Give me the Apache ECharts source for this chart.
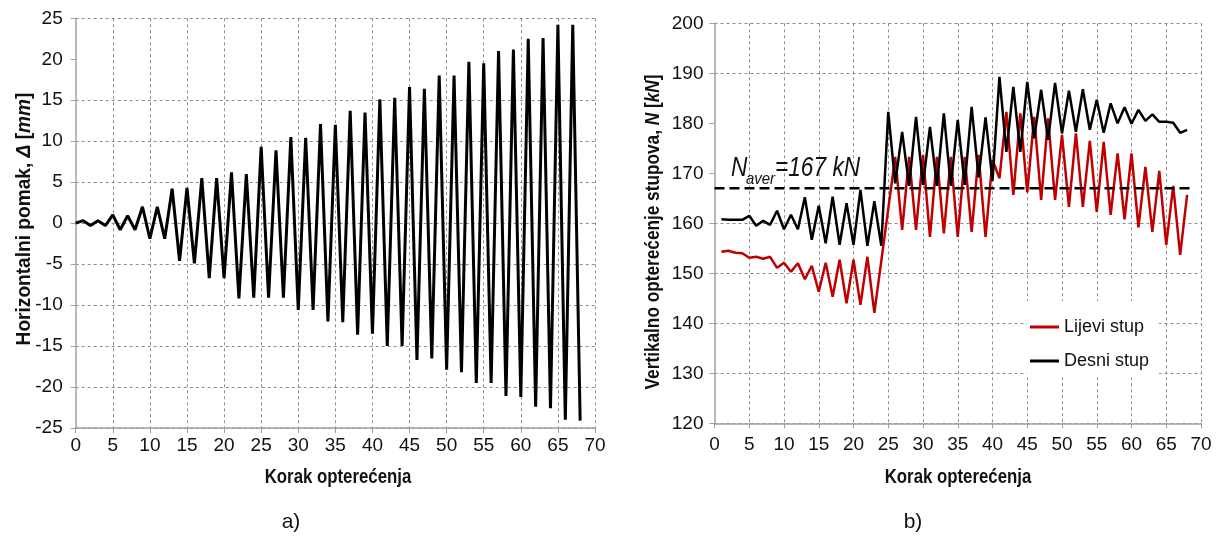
<!DOCTYPE html>
<html><head><meta charset="utf-8">
<script src="https://cdn.jsdelivr.net/npm/echarts@6/dist/echarts.min.js"></script>
<style>html,body{margin:0;padding:0;background:#fff}#c{width:1219px;height:540px}</style>
</head><body><div id="c"></div>
<script>
// ---- data ----
// Left chart: horizontal displacement per load step (steps 0..68)
const dispSteps = [0,1,2,3,4,5,6,7,8,9,10,11,12,13,14,15,16,17,18,19,20,21,22,23,24,25,26,27,28,29,30,31,32,33,34,35,36,37,38,39,40,41,42,43,44,45,46,47,48,49,50,51,52,53,54,55,56,57,58,59,60,61,62,63,64,65,66,67,68];
const dispValues = [0,0.3,-0.3,0.3,-0.3,1.0,-0.8,0.9,-0.8,2.0,-1.9,2.0,-1.9,4.2,-4.6,4.3,-4.9,5.5,-6.7,5.5,-6.7,6.2,-9.2,6.0,-9.1,9.3,-9.1,8.9,-9.1,10.5,-10.6,10.4,-10.6,12.1,-12.0,12.0,-12.1,13.7,-13.6,13.5,-13.5,15.1,-15.0,15.3,-15.0,16.6,-16.7,16.4,-16.5,18.0,-17.9,18.0,-18.2,19.7,-19.5,19.5,-19.5,21.0,-21.1,21.2,-21.2,22.5,-22.4,22.6,-22.6,24.2,-24.0,24.2,-24.1];
// Right chart: vertical column load per load step (steps 1..68)
const loadSteps = [1,2,3,4,5,6,7,8,9,10,11,12,13,14,15,16,17,18,19,20,21,22,23,24,25,26,27,28,29,30,31,32,33,34,35,36,37,38,39,40,41,42,43,44,45,46,47,48,49,50,51,52,53,54,55,56,57,58,59,60,61,62,63,64,65,66,67,68];
const lijeviStup = [154.3,154.5,154.1,154.0,153.1,153.3,152.9,153.3,151.1,152.1,150.3,152.0,148.8,151.5,146.3,152.1,145.3,152.7,144.0,152.7,143.7,153.3,142.1,152.5,162.9,173.3,158.7,173.3,158.7,173.7,157.3,173.3,158.0,173.3,157.3,173.3,158.3,173.7,157.3,172.7,169.0,182.3,165.7,182.0,166.2,181.3,164.7,181.0,164.7,177.7,163.3,178.0,163.3,176.5,162.3,176.3,161.7,174.0,160.8,174.0,159.2,171.3,158.3,170.5,155.7,167.5,153.7,165.7];
const desniStup = [160.8,160.7,160.7,160.7,161.5,159.5,160.5,159.7,162.5,158.8,161.7,158.8,165.2,156.7,163.5,156.0,165.3,155.7,164.0,155.7,166.7,155.5,164.4,155.5,182.3,168.0,178.3,167.5,181.3,167.7,179.3,167.5,182.0,167.5,180.7,167.7,183.3,169.2,181.2,168.5,189.3,174.3,187.3,174.3,188.3,177.0,186.7,176.7,188.1,178.0,186.5,178.3,186.8,178.7,184.7,178.1,184.0,180.0,183.2,179.9,182.7,180.5,181.8,180.3,180.3,180.1,178.1,178.7];
const avgLoad = 167;
const avgSteps = [0, 68.5];
const seriesNames = ['Lijevi stup', 'Desni stup'];
const xTitle = 'Korak opterećenja';
const leftYTitle = '{b|Horizontalni pomak, }{bi|Δ}{b| [}{bi|mm}{b|]}';
const rightYTitle = '{b|Vertikalno opterećenje stupova, }{bi|N}{b| [}{bi|kN}{b|]}';
const panelLabels = ['a)', 'b)'];

// ---- build ----
const FONT = "'Liberation Sans', Arial, sans-serif";
const pairs = (xs, ys) => xs.map((x, i) => [x, ys[i]]);
const GC = '#8c8c8c';
const gridDash = {type: [3, 3], color: GC, width: 1};
const axisGray = {color: '#a0a0a0', width: 1.5};

function xAx(gi, margin) {
  return {
    type: 'value', gridIndex: gi, min: 0, max: 70, interval: 5,
    axisLine: {show: true, onZero: false, lineStyle: axisGray},
    axisTick: {show: true, length: 5, lineStyle: {color: '#a0a0a0'}},
    axisLabel: {fontSize: 19, color: '#111', fontFamily: FONT, margin: margin},
    splitLine: {show: true, showMinLine: false, lineStyle: gridDash}
  };
}
const T = 'rgba(0,0,0,0)';
const leftSplitColors = [GC,GC,GC,GC,GC,GC,GC,GC,GC,T,GC];
const rightSplitColors = [GC,GC,GC,GC,GC,T,T,GC,GC];

const richName = {
  b: {fontSize: 21, fontWeight: 'bold', fill: '#111', fontFamily: FONT},
  bi: {fontSize: 21, fontWeight: 'bold', fontStyle: 'italic', fill: '#111', fontFamily: FONT}
};
const txt = (o) => Object.assign({type: 'text', z: 10}, o);

const option = {
  animation: false,
  backgroundColor: '#fff',
  grid: [
    {left: 75.7, top: 18.3, width: 519.3, height: 409.7, containLabel: false},
    {left: 714.5, top: 23.3, width: 486.5, height: 400, containLabel: false}
  ],
  xAxis: [xAx(0, 8), xAx(1, 12)],
  yAxis: [
    {
      type: 'value', gridIndex: 0, min: -25, max: 25, interval: 5,
      axisLine: {show: true, onZero: false, lineStyle: axisGray},
      axisTick: {show: true, length: 5, lineStyle: {color: '#a0a0a0'}},
      axisLabel: {fontSize: 19, color: '#111', fontFamily: FONT, margin: 13},
      splitLine: {show: true, lineStyle: Object.assign({}, gridDash, {color: leftSplitColors})}
    },
    {
      type: 'value', gridIndex: 1, min: 120, max: 200, interval: 10,
      axisLine: {show: true, onZero: false, lineStyle: axisGray},
      axisTick: {show: true, length: 5, lineStyle: {color: '#a0a0a0'}},
      axisLabel: {fontSize: 19, color: '#111', fontFamily: FONT, margin: 11},
      splitLine: {show: true, lineStyle: Object.assign({}, gridDash, {color: rightSplitColors})}
    }
  ],
  legend: {
    data: seriesNames, orient: 'vertical', left: 1027, top: 301,
    padding: [17, 10, 7, 3], backgroundColor: '#fff', itemGap: 16,
    itemWidth: 29, itemHeight: 3, icon: 'rect',
    textStyle: {fontSize: 18, color: '#111', fontFamily: FONT}
  },
  series: [
    {type: 'line', name: 'disp', xAxisIndex: 0, yAxisIndex: 0, data: pairs(dispSteps, dispValues),
     showSymbol: false, symbol: 'none', lineStyle: {color: '#000', width: 3}, itemStyle: {color: '#000'}},
    {type: 'line', name: seriesNames[0], xAxisIndex: 1, yAxisIndex: 1, data: pairs(loadSteps, lijeviStup),
     showSymbol: false, symbol: 'none', lineStyle: {color: '#c00000', width: 2.5}, itemStyle: {color: '#c00000'}},
    {type: 'line', name: seriesNames[1], xAxisIndex: 1, yAxisIndex: 1, data: pairs(loadSteps, desniStup),
     showSymbol: false, symbol: 'none', lineStyle: {color: '#000', width: 2.5}, itemStyle: {color: '#000'}},
    {type: 'line', name: 'avg', xAxisIndex: 1, yAxisIndex: 1, data: avgSteps.map(x => [x, avgLoad]),
     showSymbol: false, symbol: 'none', lineStyle: {color: '#000', width: 2.5, type: [10, 5]}, z: 5}
  ],
  graphic: [
    // axis titles (condensed like the original narrow font)
    txt({x: 24, y: 219, rotation: Math.PI / 2, scaleX: 0.91,
         style: {text: leftYTitle, rich: richName, align: 'center', verticalAlign: 'middle'}}),
    txt({x: 653, y: 232, rotation: Math.PI / 2, scaleX: 0.82,
         style: {text: rightYTitle, rich: richName, align: 'center', verticalAlign: 'middle'}}),
    txt({x: 338, y: 477, scaleX: 0.8,
         style: {text: xTitle, font: 'bold 21px ' + FONT, fill: '#111', align: 'center', verticalAlign: 'middle'}}),
    txt({x: 958, y: 477, scaleX: 0.8,
         style: {text: xTitle, font: 'bold 21px ' + FONT, fill: '#111', align: 'center', verticalAlign: 'middle'}}),
    // average annotation
    txt({x: 731, y: 155, scaleX: 0.84, style: {text: 'N', font: 'italic 27px ' + FONT, fill: '#111'}}),
    txt({x: 746, y: 171, scaleX: 0.88, style: {text: 'aver', font: 'italic 17px ' + FONT, fill: '#111'}}),
    txt({x: 775, y: 155, scaleX: 0.84, style: {text: '=' + avgLoad + ' kN', font: 'italic 27px ' + FONT, fill: '#111'}}),
    // panel labels
    txt({x: 291, y: 522, style: {text: panelLabels[0], font: '21px ' + FONT, fill: '#111', align: 'center', verticalAlign: 'middle'}}),
    txt({x: 913, y: 522, style: {text: panelLabels[1], font: '21px ' + FONT, fill: '#111', align: 'center', verticalAlign: 'middle'}})
  ]
};
const chart = echarts.init(document.getElementById('c'), null, {renderer: 'canvas'});
chart.setOption(option);
</script></body></html>
